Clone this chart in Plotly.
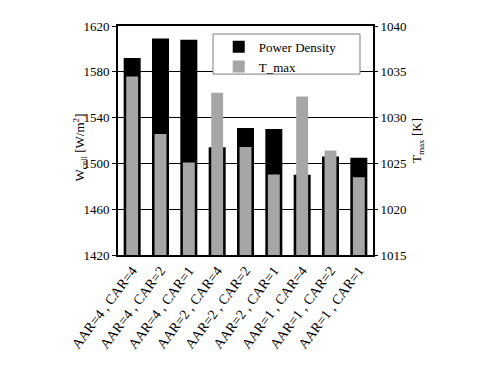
import plotly.graph_objects as go

categories = ["AAR=4 , CAR=4", "AAR=4 , CAR=2", "AAR=4 , CAR=1",
              "AAR=2 , CAR=4", "AAR=2 , CAR=2", "AAR=2 , CAR=1",
              "AAR=1 , CAR=4", "AAR=1 , CAR=2", "AAR=1 , CAR=1"]
power_density = [1592, 1609, 1608, 1514, 1531, 1530, 1490, 1506, 1505]
t_max = [1034.5, 1028.2, 1025.1, 1032.7, 1026.8, 1023.8, 1032.3, 1026.4, 1023.5]

SERIF = "Liberation Serif, Times New Roman, serif"
GRAY = "#a6a6a6"

fig = go.Figure()

fig.add_trace(go.Bar(
    x=categories, y=[v - 1420 for v in power_density], base=1420,
    name="Power Density", marker=dict(color="black", line=dict(width=0)),
    width=0.6, yaxis="y",
))
fig.add_trace(go.Bar(
    x=categories, y=[v - 1015 for v in t_max], base=1015,
    name="T_max", marker=dict(color=GRAY, line=dict(width=0)),
    width=0.42, yaxis="y2",
))

# legend frame (white box, grey border)
fig.add_shape(type="rect", xref="paper", yref="paper",
              x0=0.3725, x1=0.949, y0=0.79, y1=0.965,
              fillcolor="white", line=dict(color="#7f7f7f", width=1),
              layer="above")

# left axis title, placed close to the tick labels
fig.add_annotation(text="W<sub>cell</sub> [W/m<sup>2</sup>]",
                   xref="paper", yref="paper", x=-0.192, y=0.47,
                   textangle=-90, showarrow=False,
                   font=dict(family=SERIF, size=13, color="black"))

fig.update_layout(
    width=480, height=375,
    margin=dict(l=110, r=115, t=18, b=128),
    paper_bgcolor="white", plot_bgcolor="white",
    barmode="overlay",
    showlegend=True,
    font=dict(family=SERIF, size=13, color="black"),
    legend=dict(
        x=0.395, y=0.975, xanchor="left", yanchor="top",
        bgcolor="rgba(0,0,0,0)", borderwidth=0,
        font=dict(family=SERIF, size=13, color="black"),
        tracegroupgap=0, itemwidth=30,
    ),
    xaxis=dict(
        tickangle=-53, tickfont=dict(family=SERIF, size=14),
        showline=True, linecolor="black", linewidth=2, mirror=True,
        ticks="", showgrid=False,
    ),
    yaxis=dict(
        range=[1420, 1620], dtick=40, tick0=1420,
        showgrid=True, gridcolor="black", gridwidth=1,
        showline=True, linecolor="black", linewidth=2, mirror=True,
        ticks="outside", ticklen=4, tickcolor="black",
        tickfont=dict(family=SERIF, size=13),
        zeroline=False,
    ),
    yaxis2=dict(
        range=[1015, 1040], dtick=5, tick0=1015,
        overlaying="y", side="right", showgrid=False,
        ticks="outside", ticklen=4, tickcolor="black",
        tickfont=dict(family=SERIF, size=13),
        title=dict(text="T<sub>max</sub> [K]",
                   font=dict(family=SERIF, size=13), standoff=6),
        zeroline=False,
    ),
)

fig.write_html("out.html")
